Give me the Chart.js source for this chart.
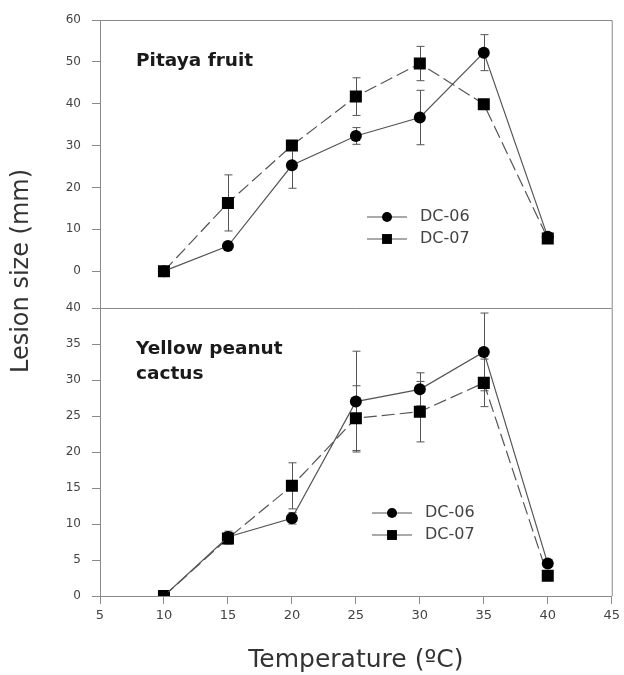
<!DOCTYPE html>
<html>
<head>
<meta charset="utf-8">
<script src="https://cdn.jsdelivr.net/npm/chart.js@4/dist/chart.umd.min.js"></script>
<style>
  html, body { margin: 0; padding: 0; background: #fff; }
  #wrap { width: 624px; height: 675px; }
</style>
</head>
<body>
<div id="wrap"><canvas id="chart" width="624" height="675"></canvas></div>
<script>
// temperatures (x) and lesion sizes (mm)
const temps = [10, 15, 20, 25, 30, 35, 40];
const seriesNames = ['DC-06', 'DC-07'];

const pitaya06 = [0, 6.0, 25.3, 32.3, 36.7, 52.2, 8.2];
const pitaya07 = [0, 16.3, 30.0, 41.7, 49.6, 39.9, 7.8];
const pitayaErr06 = [0, 0.6, 5.5, 2.0, 6.5, 4.3, 0.4];
const pitayaErr07 = [0, 6.7, 1.0, 4.5, 4.1, 1.0, 0.4];

const peanut06 = [0, 8.2, 10.8, 27.0, 28.7, 33.9, 4.5];
const peanut07 = [0, 8.0, 15.3, 24.7, 25.6, 29.6, 2.8];
const peanutErr06 = [0, 0.8, 0.8, 7.0, 2.3, 5.4, 0.3];
const peanutErr07 = [0, 0.8, 3.2, 4.5, 4.2, 3.3, 0.3];

const xTitle = 'Temperature (ºC)';
const yTitle = 'Lesion size (mm)';
const panelNames = [['Pitaya fruit'], ['Yellow peanut', 'cactus']];

const FONT = 'DejaVu Sans';
const LINE = '#555';
const AXIS = '#8a8a8a';

function pts(vals) {
  return vals.map((v, i) => ({ x: temps[i], y: v }));
}

function series(label, vals, errs, axis, dashed) {
  return {
    label: label,
    data: pts(vals),
    errors: errs,
    yAxisID: axis,
    borderColor: LINE,
    borderWidth: 1.2,
    borderDash: dashed ? [13, 5] : [],
    pointStyle: dashed ? 'rect' : 'circle',
    pointRadius: dashed ? 8.5 : 6,
    pointBackgroundColor: '#000',
    pointBorderColor: '#000',
    pointBorderWidth: 0,
    tension: 0,
    fill: false
  };
}

const extras = {
  id: 'extras',
  beforeDatasetsDraw(chart) {
    const ctx = chart.ctx;
    const xs = chart.scales.x;
    ctx.save();
    ctx.strokeStyle = LINE;
    ctx.lineWidth = 1;
    chart.data.datasets.forEach(ds => {
      const ys = chart.scales[ds.yAxisID];
      ds.data.forEach((p, i) => {
        const e = ds.errors[i];
        if (!e) return;
        const px = Math.round(xs.getPixelForValue(p.x)) + 0.5;
        const hi = ys.getPixelForValue(p.y + e);
        const lo = ys.getPixelForValue(p.y - e);
        ctx.beginPath();
        ctx.moveTo(px, hi); ctx.lineTo(px, lo);
        ctx.moveTo(px - 4, hi); ctx.lineTo(px + 4, hi);
        ctx.moveTo(px - 4, lo); ctx.lineTo(px + 4, lo);
        ctx.stroke();
      });
    });
    ctx.restore();
  },
  afterDraw(chart) {
    const ctx = chart.ctx;
    const a = chart.chartArea;
    const yTop = chart.scales.yTop;
    const yBot = chart.scales.yBot;
    ctx.save();
    // frame: top, right and panel divider
    ctx.strokeStyle = AXIS;
    ctx.lineWidth = 1;
    const div = Math.round(yTop.bottom) + 0.5;
    ctx.beginPath();
    ctx.moveTo(a.left, a.top + 0.5); ctx.lineTo(a.right + 0.5, a.top + 0.5);
    ctx.lineTo(a.right + 0.5, a.bottom);
    ctx.moveTo(a.left, div); ctx.lineTo(a.right, div);
    ctx.stroke();

    // panel names
    ctx.fillStyle = '#1a1a1a';
    ctx.font = 'bold 18.5px "' + FONT + '"';
    ctx.textBaseline = 'middle';
    ctx.textAlign = 'left';
    [yTop, yBot].forEach((s, k) => {
      panelNames[k].forEach((t, j) => {
        ctx.fillText(t, a.left + 36, s.top + 41 + j * 25);
      });
    });

    // legends inside each panel
    const legendAt = [[267, 197], [272, 205]];
    [yTop, yBot].forEach((s, k) => {
      const lx = a.left + legendAt[k][0];
      seriesNames.forEach((name, j) => {
        const ly = s.top + legendAt[k][1] + j * 22;
        ctx.strokeStyle = LINE;
        ctx.lineWidth = 1.2;
        ctx.setLineDash([]);
        ctx.beginPath();
        ctx.moveTo(lx, ly); ctx.lineTo(lx + 40, ly);
        ctx.stroke();
        ctx.fillStyle = '#000';
        Chart.helpers.drawPoint(ctx, {
          pointStyle: j === 0 ? 'circle' : 'rect',
          radius: j === 0 ? 5 : 7,
          rotation: 0,
          borderWidth: 0
        }, lx + 20, ly);
        ctx.fillStyle = '#444';
        ctx.font = '16px "' + FONT + '"';
        ctx.textAlign = 'left';
        ctx.textBaseline = 'middle';
        ctx.fillText(name, lx + 53, ly);
      });
    });

    // shared y title
    ctx.translate(22, 271);
    ctx.rotate(-Math.PI / 2);
    ctx.fillStyle = '#333';
    ctx.font = '24px "' + FONT + '"';
    ctx.textAlign = 'center';
    ctx.textBaseline = 'middle';
    ctx.fillText(yTitle, 0, 0);
    ctx.restore();
  }
};

function yAxis(min, max, step) {
  return {
    type: 'linear',
    position: 'left',
    stack: 'panels',
    stackWeight: 1,
    min: min,
    max: max,
    afterBuildTicks: s => { s.ticks = s.ticks.filter(t => t.value >= 0); },
    afterFit: s => { s.width = 100; },
    border: { color: AXIS, width: 1 },
    grid: { drawOnChartArea: false, drawTicks: true, tickLength: 8, color: AXIS },
    ticks: { stepSize: step, padding: 11, color: '#444', font: { family: FONT, size: 12 } }
  };
}

new Chart(document.getElementById('chart'), {
  type: 'line',
  data: {
    datasets: [
      series(seriesNames[0], pitaya06, pitayaErr06, 'yTop', false),
      series(seriesNames[1], pitaya07, pitayaErr07, 'yTop', true),
      series(seriesNames[0], peanut06, peanutErr06, 'yBot', false),
      series(seriesNames[1], peanut07, peanutErr07, 'yBot', true)
    ]
  },
  options: {
    responsive: false,
    animation: false,
    layout: { padding: { left: 0, right: 12, top: 20, bottom: 0 } },
    plugins: { legend: { display: false }, tooltip: { enabled: false } },
    scales: {
      x: {
        type: 'linear',
        min: 5,
        max: 45,
        afterFit: s => { s.height = 79; },
        border: { color: AXIS, width: 1 },
        grid: { drawOnChartArea: false, drawTicks: true, tickLength: 8, color: AXIS },
        ticks: { stepSize: 5, padding: 4, color: '#444', font: { family: FONT, size: 13 } },
        title: {
          display: true,
          text: xTitle,
          color: '#333',
          padding: { top: 0, bottom: 0 },
          font: { family: FONT, size: 25 }
        }
      },
      // the layout stacks the later-defined axis on top
      yBot: yAxis(0, 40, 5),
      yTop: yAxis(-8.8, 60, 10)
    }
  },
  plugins: [extras]
});
</script>
</body>
</html>
